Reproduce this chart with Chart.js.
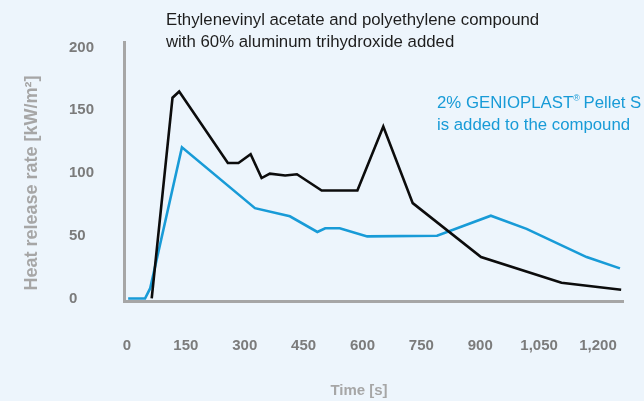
<!DOCTYPE html>
<html>
<head>
<meta charset="utf-8">
<script src="https://cdn.jsdelivr.net/npm/chart.js@4"></script>
<style>
  html, body { margin: 0; padding: 0; background: #edf5fc; }
  #wrap { width: 644px; height: 401px; position: relative; }
</style>
</head>
<body>
<div id="wrap"><canvas id="hrr"></canvas></div>
<script>
// Heat release rate [kW/m2] over time [s]
const baseTime = [63, 116, 133, 257, 284, 315, 343, 364, 403, 433, 496, 587, 653, 728, 902, 1107, 1259];
const baseHrr  = [0, 160, 165, 108, 108, 115, 96, 99.5, 98, 99, 86, 86, 137, 76, 33, 12.5, 7];

const genioTime = [3, 46, 59, 140, 326, 415, 485, 505, 542, 612, 790, 927, 1018, 1171, 1256];
const genioHrr  = [0, 0, 8, 120.5, 72, 65.5, 53, 56, 56, 49.5, 50, 66, 55.5, 33, 24];

const xTicks = [0, 150, 300, 450, 600, 750, 900, 1050, 1200];
const yTicks = [0, 50, 100, 150, 200];

const titleLines = ['Ethylenevinyl acetate and polyethylene compound', 'with 60% aluminum trihydroxide added'];
const noteLines = ['2% GENIOPLAST', '®', ' Pellet S', 'is added to the compound'];
const yTitle = 'Heat release rate [kW/m²]';
const xTitle = 'Time [s]';

const BLUE = '#189bd7';
const AXIS = '#a6a6a6';
const TICK = '#7b7b7b';
const FONT = '"Liberation Sans", Arial, Helvetica, sans-serif';

function toPoints(xs, ys) {
    return xs.map((x, i) => ({ x: x, y: ys[i] }));
}

const textPlugin = {
    id: 'texts',
    afterDraw(chart) {
        const c = chart.ctx;
        c.save();
        c.textBaseline = 'alphabetic';
        c.textAlign = 'left';

        // chart title, top
        c.fillStyle = '#1e1e1e';
        c.font = '16.8px ' + FONT;
        c.fillText(titleLines[0], 166, 25);
        c.fillText(titleLines[1], 166, 47);

        // blue note with superscript ®
        c.fillStyle = BLUE;
        c.font = '16.8px ' + FONT;
        let x = 437;
        c.fillText(noteLines[0], x, 108);
        x += c.measureText(noteLines[0]).width;
        c.font = '9px ' + FONT;
        c.fillText(noteLines[1], x, 101);
        x += c.measureText(noteLines[1]).width - 1;
        c.font = '16.8px ' + FONT;
        c.fillText(noteLines[2], x, 108);
        c.fillText(noteLines[3], 437, 130);

        // axis titles
        c.fillStyle = AXIS;
        c.font = 'bold 15px ' + FONT;
        c.textAlign = 'center';
        c.textBaseline = 'middle';
        c.fillText(xTitle, 359, 391);

        c.translate(32, 183);
        c.rotate(-Math.PI / 2);
        c.font = 'bold 18px ' + FONT;
        c.fillText(yTitle, 0, 0);
        c.restore();
    }
};

new Chart(document.getElementById('hrr').getContext('2d'), {
    type: 'line',
    data: {
        datasets: [
            {
                label: 'EVA/PE + 60% ATH',
                data: toPoints(baseTime, baseHrr),
                borderColor: '#0c0c0c',
                borderWidth: 2.6,
                pointRadius: 0,
                tension: 0,
                fill: false
            },
            {
                label: '+ 2% GENIOPLAST Pellet S',
                data: toPoints(genioTime, genioHrr),
                borderColor: BLUE,
                borderWidth: 2.6,
                pointRadius: 0,
                tension: 0,
                fill: false
            }
        ]
    },
    options: {
        responsive: true,
        maintainAspectRatio: false,
        animation: false,
        layout: { padding: { left: 69, right: 21, top: 42, bottom: 0 } },
        plugins: {
            legend: { display: false },
            title: { display: false },
            tooltip: { enabled: false }
        },
        scales: {
            x: {
                type: 'linear',
                min: -7.6,
                max: 1263.7,
                afterBuildTicks: (axis) => { axis.ticks = xTicks.map(v => ({ value: v })); },
                afterFit: (axis) => {
                    axis.height = 100;
                    // labels fit inside the layout padding already
                    axis.paddingLeft = 0;
                    axis.paddingRight = 0;
                },
                grid: { display: false, drawTicks: false },
                border: { display: true, color: AXIS, width: 3 },
                ticks: {
                    color: TICK,
                    font: { family: FONT, size: 15, weight: 'bold' },
                    padding: 36,
                    maxRotation: 0,
                    autoSkip: false,
                    callback: (v) => v.toLocaleString('en-US')
                }
            },
            y: {
                type: 'linear',
                min: -2,
                max: 204.4,
                afterBuildTicks: (axis) => { axis.ticks = yTicks.map(v => ({ value: v })); },
                afterFit: (axis) => {
                    axis.width = 55;
                    axis.paddingTop = 0;
                    axis.paddingBottom = 0;
                },
                grid: { display: false, drawTicks: false },
                border: { display: true, color: AXIS, width: 3 },
                ticks: {
                    color: TICK,
                    font: { family: FONT, size: 15, weight: 'bold' },
                    crossAlign: 'far',
                    autoSkip: false
                }
            }
        }
    },
    plugins: [textPlugin]
});
</script>
</body>
</html>
